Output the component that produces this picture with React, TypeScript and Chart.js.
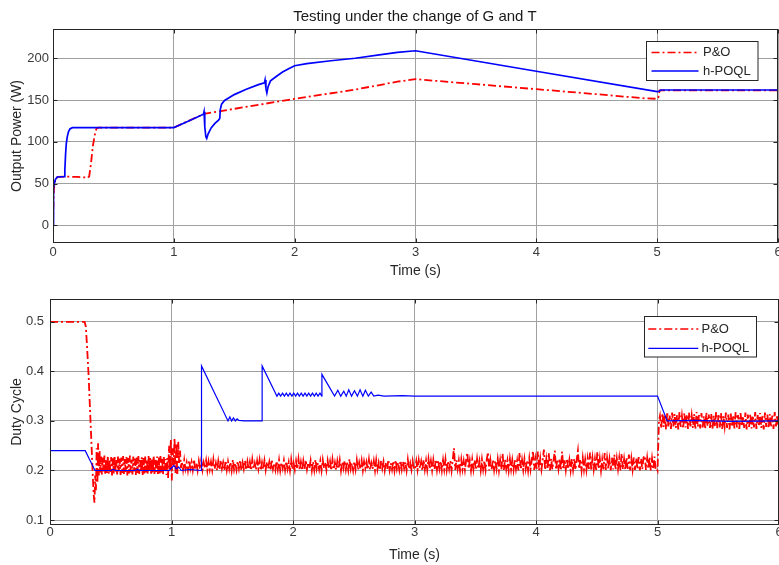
import React, { useEffect, useRef } from "react";
import { Chart, registerables } from "chart.js";

Chart.register(...registerables);

// ---------- text ----------
const chartTitle = "Testing under the change of G and T";
const xAxisTitle = "Time (s)";
const powerAxisTitle = "Output Power (W)";
const dutyAxisTitle = "Duty Cycle";
const seriesNames = ["P&O", "h-POQL"];

// ---------- ticks ----------
const timeTicks = [0, 1, 2, 3, 4, 5, 6];
const powerTicks = [0, 50, 100, 150, 200];
const dutyTicks = [0.1, 0.2, 0.3, 0.4, 0.5];
const timeRange = [0, 6];
const powerRange = [-21, 235];
const dutyRange = [0.09, 0.546];

// ---------- top panel: output power (W) ----------
const poPower: [number, number][] = [
  [0, 0], [0.004, 28], [0.008, 44], [0.015, 52], [0.025, 56], [0.04, 58], [0.1, 58.5], [0.2, 58],
  [0.26, 57.5], [0.29, 57], [0.3, 59], [0.315, 75], [0.33, 95], [0.345, 108], [0.36, 116], [0.375, 117],
  [1.0, 117], [1.25, 133.5], [1.5, 139.5], [1.75, 145.5], [2.0, 151.5], [2.5, 162.5], [2.85, 172],
  [3.0, 175], [3.5, 169], [4.0, 163], [4.5, 157], [4.9, 152], [5.0, 151.5], [5.01, 153], [5.02, 161.5],
  [6.0, 161.5],
];

const hPower: [number, number][] = [
  [0, 0], [0.002, 15], [0.004, 35], [0.007, 45], [0.012, 51], [0.02, 55], [0.035, 58], [0.094, 58.5],
  [0.098, 66], [0.104, 85], [0.11, 98], [0.118, 106], [0.128, 112], [0.14, 115.5], [0.16, 117],
  [1.0, 117], [1.1, 123.5], [1.2, 130], [1.245, 133], [1.25, 136], [1.256, 118], [1.265, 106],
  [1.272, 104], [1.285, 110], [1.31, 117], [1.34, 122], [1.37, 126], [1.38, 128], [1.385, 139],
  [1.395, 145], [1.42, 149.5], [1.46, 153], [1.5, 156.5], [1.6, 163], [1.7, 168.5], [1.75, 170.5],
  [1.755, 174], [1.762, 164], [1.77, 158.5], [1.78, 166], [1.8, 173], [1.85, 178.5], [1.9, 183.5],
  [1.95, 187.5], [2.0, 191], [2.1, 193.5], [2.3, 197], [2.5, 200], [2.7, 204], [2.85, 207], [3.0, 209],
  [4.0, 184.5], [5.0, 160], [5.015, 160.5], [5.03, 162], [6.0, 162],
];

// ---------- bottom panel: duty cycle ----------
const poDutyHead: [number, number][] = [
  [0, 0.5], [0.285, 0.5], [0.295, 0.49], [0.305, 0.45], [0.318, 0.39], [0.33, 0.32], [0.342, 0.25],
  [0.352, 0.19], [0.36, 0.15], [0.366, 0.135], [0.372, 0.19], [0.378, 0.16], [0.384, 0.245],
  [0.39, 0.175], [0.396, 0.255], [0.402, 0.19], [0.408, 0.24],
];

const poDutyNoiseASpan = [0.413, 0.965];
const poDutyNoiseA = [
  0.196, 0.228, 0.192, 0.226, 0.198, 0.23, 0.191, 0.224, 0.195, 0.229, 0.193, 0.222, 0.197, 0.227, 0.19, 0.225,
  0.194, 0.23, 0.196, 0.221, 0.192, 0.228, 0.198, 0.224, 0.191, 0.226, 0.195, 0.229, 0.193, 0.223, 0.197, 0.227,
  0.19, 0.225, 0.194, 0.23, 0.196, 0.222, 0.192, 0.228, 0.198, 0.224, 0.191, 0.226, 0.195, 0.229, 0.193, 0.221,
  0.197, 0.227, 0.19, 0.225, 0.194, 0.228, 0.196, 0.223, 0.192, 0.229, 0.198, 0.226, 0.191, 0.224, 0.195, 0.23,
  0.193, 0.222, 0.197, 0.228, 0.19, 0.226, 0.194, 0.229, 0.196, 0.224, 0.192, 0.227, 0.198, 0.223, 0.191, 0.225,
];

const poDutyBurstSpan = [0.972, 1.078];
const poDutyBurst = [0.185, 0.25, 0.2, 0.262, 0.18, 0.245, 0.21, 0.265, 0.195, 0.255, 0.19, 0.258, 0.215, 0.24, 0.205];

const poDutyNoiseBSpan = [1.085, 2.995];
const poDutyNoiseB = [
  0.218, 0.201, 0.221, 0.203, 0.216, 0.2, 0.22, 0.204, 0.217, 0.201, 0.222, 0.202, 0.215, 0.2, 0.219, 0.203,
  0.221, 0.201, 0.216, 0.204, 0.22, 0.2, 0.218, 0.202, 0.217, 0.201, 0.222, 0.203, 0.215, 0.2, 0.219, 0.202,
  0.221, 0.204, 0.216, 0.2, 0.22, 0.201, 0.218, 0.203, 0.217, 0.2, 0.222, 0.202, 0.215, 0.201, 0.219, 0.204,
  0.221, 0.2, 0.216, 0.203, 0.22, 0.201, 0.218, 0.202, 0.217, 0.2, 0.222, 0.204, 0.215, 0.201, 0.219, 0.203,
  0.221, 0.2, 0.216, 0.202, 0.22, 0.201, 0.218, 0.204, 0.217, 0.2, 0.222, 0.203, 0.215, 0.201, 0.219, 0.202,
  0.221, 0.2, 0.216, 0.204, 0.22, 0.201, 0.218, 0.203, 0.217, 0.2, 0.222, 0.202, 0.215, 0.201, 0.219, 0.203,
  0.223, 0.201, 0.217, 0.2, 0.219, 0.203, 0.221, 0.202, 0.216, 0.204, 0.22, 0.2, 0.218, 0.201, 0.222, 0.203,
  0.215, 0.202, 0.219, 0.2, 0.221, 0.204, 0.217, 0.201, 0.22, 0.203, 0.218, 0.2, 0.222, 0.202, 0.216, 0.201,
  0.219, 0.203, 0.221, 0.2, 0.217, 0.204, 0.22, 0.202, 0.218, 0.201, 0.223, 0.203, 0.215, 0.2, 0.219, 0.202,
  0.221, 0.201, 0.216, 0.203, 0.22, 0.2, 0.218, 0.204, 0.217, 0.202, 0.222, 0.201, 0.215, 0.203, 0.219, 0.2,
  0.221, 0.202, 0.216, 0.201, 0.22, 0.204, 0.218, 0.2, 0.217, 0.203, 0.222, 0.201, 0.215, 0.202, 0.219, 0.2,
  0.221, 0.203, 0.216, 0.201, 0.22, 0.202, 0.218, 0.204, 0.217, 0.2, 0.222, 0.203, 0.215, 0.201, 0.219, 0.202,
];

const poDutyNoiseCSpan = [3.005, 4.995];
const poDutyNoiseC = [
  0.203, 0.219, 0.201, 0.221, 0.204, 0.218, 0.2, 0.222, 0.202, 0.22, 0.201, 0.223, 0.203, 0.219, 0.2, 0.221, 0.202, 0.222, 0.201, 0.22,
  0.203, 0.219, 0.2, 0.221, 0.202, 0.223, 0.201, 0.219, 0.203, 0.22, 0.2, 0.222, 0.245, 0.201, 0.221, 0.203, 0.22, 0.2, 0.222, 0.202,
  0.219, 0.201, 0.221, 0.236, 0.203, 0.22, 0.2, 0.222, 0.202, 0.221, 0.201, 0.223, 0.203, 0.219, 0.2, 0.222, 0.202, 0.22, 0.201, 0.223,
  0.237, 0.2, 0.221, 0.202, 0.222, 0.201, 0.22, 0.203, 0.223, 0.2, 0.221, 0.202, 0.234, 0.201, 0.222, 0.203, 0.22, 0.2, 0.223, 0.202,
  0.221, 0.201, 0.222, 0.203, 0.22, 0.2, 0.236, 0.202, 0.221, 0.201, 0.223, 0.203, 0.22, 0.2, 0.224, 0.202, 0.221, 0.24, 0.201, 0.223,
  0.203, 0.238, 0.2, 0.224, 0.202, 0.221, 0.242, 0.201, 0.223, 0.203, 0.236, 0.2, 0.224, 0.202, 0.222, 0.24, 0.201, 0.223, 0.203, 0.224,
  0.2, 0.238, 0.202, 0.222, 0.201, 0.224, 0.203, 0.221, 0.2, 0.223, 0.202, 0.224, 0.201, 0.222, 0.24, 0.203, 0.223, 0.2, 0.225, 0.202,
  0.222, 0.201, 0.224, 0.203, 0.236, 0.2, 0.225, 0.202, 0.223, 0.201, 0.238, 0.203, 0.224, 0.2, 0.222, 0.202, 0.235, 0.201, 0.225, 0.203,
  0.223, 0.2, 0.226, 0.202, 0.232, 0.201, 0.224, 0.203, 0.225, 0.2, 0.234, 0.202, 0.223, 0.201, 0.226, 0.203, 0.232, 0.2, 0.224, 0.202,
  0.226, 0.201, 0.225, 0.203, 0.227, 0.2, 0.224, 0.202, 0.226, 0.23, 0.201, 0.225, 0.203, 0.227, 0.2, 0.224, 0.202, 0.228, 0.201, 0.203,
];

const poDutyStep: [number, number][] = [[5.0, 0.2], [5.006, 0.25], [5.012, 0.3]];

const poDutyNoiseDSpan = [5.02, 5.995];
const poDutyNoiseD = [
  0.31, 0.285, 0.316, 0.288, 0.313, 0.283, 0.318, 0.287, 0.311, 0.284, 0.317, 0.289, 0.314, 0.286,
  0.312, 0.283, 0.318, 0.288, 0.31, 0.285, 0.316, 0.287, 0.313, 0.284, 0.317, 0.289, 0.311, 0.286,
  0.314, 0.283, 0.318, 0.288, 0.312, 0.285, 0.316, 0.287, 0.31, 0.284, 0.317, 0.289, 0.313, 0.286,
  0.314, 0.283, 0.311, 0.288, 0.318, 0.285, 0.312, 0.287, 0.316, 0.284, 0.31, 0.289, 0.317, 0.286,
  0.313, 0.283, 0.315, 0.288, 0.311, 0.285, 0.318, 0.287, 0.312, 0.284, 0.316, 0.289, 0.31, 0.286,
  0.317, 0.283, 0.313, 0.288, 0.314, 0.285, 0.311, 0.287, 0.318, 0.284, 0.312, 0.289, 0.316, 0.286,
  0.31, 0.283, 0.317, 0.288, 0.313, 0.285, 0.314, 0.287, 0.311, 0.284, 0.318, 0.289, 0.312, 0.286,
];

const hDuty: [number, number][] = [
  [0, 0.24], [0.29, 0.24], [0.37, 0.2], [0.5, 0.2], [0.52, 0.202], [0.54, 0.2], [0.7, 0.2],
  [0.72, 0.202], [0.74, 0.2], [0.98, 0.2], [1.0, 0.205], [1.02, 0.21], [1.04, 0.203], [1.06, 0.207],
  [1.08, 0.2], [1.15, 0.202], [1.246, 0.2], [1.247, 0.411], [1.465, 0.3], [1.48, 0.308],
  [1.495, 0.3], [1.51, 0.306], [1.525, 0.3], [1.54, 0.304], [1.555, 0.301], [1.6, 0.3], [1.745, 0.3],
  [1.746, 0.411], [1.868, 0.35], [1.883, 0.356], [1.898, 0.35], [1.914, 0.356], [1.929, 0.35],
  [1.945, 0.356], [1.96, 0.35], [1.975, 0.356], [1.991, 0.35], [2.006, 0.356], [2.022, 0.35],
  [2.037, 0.356], [2.052, 0.35], [2.068, 0.356], [2.083, 0.35], [2.099, 0.356], [2.114, 0.35],
  [2.129, 0.356], [2.145, 0.35], [2.16, 0.356], [2.176, 0.35], [2.191, 0.356], [2.206, 0.35],
  [2.222, 0.356], [2.237, 0.35], [2.238, 0.394], [2.342, 0.35], [2.369, 0.362], [2.393, 0.35],
  [2.418, 0.36], [2.438, 0.35], [2.459, 0.363], [2.482, 0.35], [2.506, 0.361], [2.53, 0.35],
  [2.552, 0.363], [2.575, 0.35], [2.596, 0.362], [2.62, 0.35], [2.643, 0.358], [2.665, 0.35],
  [2.7, 0.352], [2.75, 0.35], [2.9, 0.351], [3.0, 0.35], [3.5, 0.35], [4.0, 0.35], [5.0, 0.35],
  [5.08, 0.3], [5.3, 0.301], [5.6, 0.299], [6.0, 0.3],
];

// ---------- styling ----------
const FONT = "'Liberation Sans', Arial, Helvetica, sans-serif";
const RED = "#ff0000";
const BLUE = "#0000ff";
const GRID = "#a0a0a0";
const FRAME = "#262626";
const TICK = "#3a3a3a";
const LABEL = "#262626";

type Pt = { x: number; y: number };
const pairs = (arr: [number, number][]): Pt[] => arr.map(([x, y]) => ({ x, y }));
const sampled = (span: number[], values: number[]): Pt[] =>
  values.map((v, i) => ({ x: span[0] + ((span[1] - span[0]) * i) / (values.length - 1), y: v }));

const framePlugin = {
  id: "frame",
  afterDatasetsDraw(chart: any) {
    const { ctx, chartArea: a } = chart;
    const l = Math.round(a.left) + 0.5;
    const r = Math.round(a.right) - 0.5;
    const t = Math.round(a.top) + 0.5;
    const b = Math.round(a.bottom) - 0.5;
    ctx.save();
    ctx.strokeStyle = FRAME;
    ctx.lineWidth = 1;
    ctx.setLineDash([]);
    ctx.strokeRect(l, t, r - l, b - t);
    const xs = chart.scales.x;
    const ys = chart.scales.y;
    ctx.beginPath();
    xs.ticks.forEach((tk: any) => {
      const px = Math.round(xs.getPixelForValue(tk.value)) + 0.5;
      ctx.moveTo(px, b);
      ctx.lineTo(px, b - 4);
      ctx.moveTo(px, t);
      ctx.lineTo(px, t + 4);
    });
    ys.ticks.forEach((tk: any) => {
      const py = Math.round(ys.getPixelForValue(tk.value)) + 0.5;
      ctx.moveTo(l, py);
      ctx.lineTo(l + 4, py);
      ctx.moveTo(r, py);
      ctx.lineTo(r - 4, py);
    });
    ctx.stroke();
    ctx.restore();
  },
};

const titlePlugin = {
  id: "panelTitle",
  afterDraw(chart: any, _args: any, opts: any) {
    if (!opts || !opts.text) return;
    const { ctx } = chart;
    ctx.save();
    ctx.font = `${opts.size}px ${FONT}`;
    ctx.fillStyle = opts.color;
    ctx.textAlign = "center";
    ctx.textBaseline = "middle";
    ctx.fillText(opts.text, opts.x, opts.y);
    ctx.restore();
  },
};

const legendPlugin = {
  id: "boxLegend",
  afterDraw(chart: any, _args: any, opts: any) {
    if (!opts || !opts.box) return;
    const { ctx } = chart;
    const [bl, bt, br, bb] = opts.box;
    ctx.save();
    ctx.fillStyle = "#ffffff";
    ctx.fillRect(bl, bt, br - bl, bb - bt);
    ctx.strokeStyle = FRAME;
    ctx.lineWidth = 1;
    ctx.setLineDash([]);
    ctx.strokeRect(bl, bt, br - bl, bb - bt);
    chart.data.datasets.forEach((ds: any, i: number) => {
      const y = opts.rows[i];
      ctx.beginPath();
      ctx.setLineDash(ds.borderDash || []);
      ctx.strokeStyle = ds.borderColor;
      ctx.lineWidth = Math.min(ds.borderWidth, 1.6);
      ctx.moveTo(opts.line[0], y);
      ctx.lineTo(opts.line[1], y);
      ctx.stroke();
      ctx.setLineDash([]);
      ctx.font = `${opts.size}px ${FONT}`;
      ctx.fillStyle = LABEL;
      ctx.textAlign = "left";
      ctx.textBaseline = "middle";
      ctx.fillText(ds.label, opts.textX, y);
    });
    ctx.restore();
  },
};

function makeConfig(p: {
  po: Pt[];
  h: Pt[];
  yTicks: number[];
  yRange: number[];
  yTitle: string;
  padTop: number;
  padRight: number;
  yWidth: number;
  xHeight: number;
  yTickPad: number;
  xTickPad: number;
  xTitlePadBottom: number;
  lineWidths: number[];
  legend: any;
  title: any;
}): any {
  const tickFont = { family: FONT, size: 13 };
  const titleFont = { family: FONT, size: 14 };
  return {
    type: "line",
    data: {
      datasets: [
        {
          label: seriesNames[0],
          data: p.po,
          borderColor: RED,
          borderWidth: p.lineWidths[0],
          borderDash: [8, 3, 2, 3],
          pointRadius: 0,
          tension: 0,
          fill: false,
          order: 1,
        },
        {
          label: seriesNames[1],
          data: p.h,
          borderColor: BLUE,
          borderWidth: p.lineWidths[1],
          pointRadius: 0,
          tension: 0,
          fill: false,
          order: 0,
        },
      ],
    },
    options: {
      animation: false,
      responsive: false,
      events: [],
      layout: { padding: { top: p.padTop, left: 0, right: p.padRight, bottom: 0 } },
      plugins: {
        legend: { display: false },
        tooltip: { enabled: false },
        title: { display: false },
        boxLegend: p.legend,
        panelTitle: p.title,
      },
      scales: {
        x: {
          type: "linear",
          min: timeRange[0],
          max: timeRange[1],
          afterBuildTicks: (s: any) => {
            s.ticks = timeTicks.map((v) => ({ value: v }));
          },
          afterFit: (s: any) => {
            s.height = p.xHeight;
            s.paddingLeft = 0;
            s.paddingRight = 0;
          },
          grid: { color: GRID, lineWidth: 1, drawTicks: false },
          border: { display: false },
          ticks: {
            padding: p.xTickPad,
            color: TICK,
            font: tickFont,
            maxRotation: 0,
            autoSkip: false,
            callback: (v: number) => String(v),
          },
          title: {
            display: true,
            text: xAxisTitle,
            color: LABEL,
            font: titleFont,
            padding: { top: 0, bottom: p.xTitlePadBottom },
          },
        },
        y: {
          type: "linear",
          min: p.yRange[0],
          max: p.yRange[1],
          afterBuildTicks: (s: any) => {
            s.ticks = p.yTicks.map((v) => ({ value: v }));
          },
          afterFit: (s: any) => {
            s.width = p.yWidth;
            s.paddingTop = 0;
            s.paddingBottom = 0;
          },
          grid: { color: GRID, lineWidth: 1, drawTicks: false },
          border: { display: false },
          ticks: {
            padding: p.yTickPad,
            color: TICK,
            font: tickFont,
            autoSkip: false,
            callback: (v: number) => String(v),
          },
          title: {
            display: true,
            text: p.yTitle,
            color: LABEL,
            font: titleFont,
            padding: { top: 8.6, bottom: 0 },
          },
        },
      },
    },
    plugins: [framePlugin, titlePlugin, legendPlugin],
  };
}

export default function App() {
  const topRef = useRef<HTMLCanvasElement>(null);
  const botRef = useRef<HTMLCanvasElement>(null);

  useEffect(() => {
    document.body.style.margin = "0";
    document.body.style.background = "#ffffff";

    const topCfg = makeConfig({
      po: pairs(poPower),
      h: pairs(hPower),
      yTicks: powerTicks,
      yRange: powerRange,
      yTitle: powerAxisTitle,
      padTop: 29,
      padRight: 1,
      yWidth: 53,
      xHeight: 39,
      yTickPad: 4,
      xTickPad: 2,
      xTitlePadBottom: 2,
      lineWidths: [1.8, 1.7],
      legend: { box: [646.5, 41.5, 758, 80.5], rows: [52.5, 71], line: [651.5, 698.5], textX: 703, size: 13 },
      title: { text: chartTitle, x: 415, y: 17, size: 15, color: "#1a1a1a" },
    });

    const dutyPO = [
      ...pairs(poDutyHead),
      ...sampled(poDutyNoiseASpan, poDutyNoiseA),
      ...sampled(poDutyBurstSpan, poDutyBurst),
      ...sampled(poDutyNoiseBSpan, poDutyNoiseB),
      ...sampled(poDutyNoiseCSpan, poDutyNoiseC),
      ...pairs(poDutyStep),
      ...sampled(poDutyNoiseDSpan, poDutyNoiseD),
    ];

    const botCfg = makeConfig({
      po: dutyPO,
      h: pairs(hDuty),
      yTicks: dutyTicks,
      yRange: dutyRange,
      yTitle: dutyAxisTitle,
      padTop: 17,
      padRight: 0,
      yWidth: 50,
      xHeight: 40,
      yTickPad: 6,
      xTickPad: 0,
      xTitlePadBottom: 1.6,
      lineWidths: [1.8, 1.2],
      legend: { box: [644.5, 34.5, 756.5, 75], rows: [47, 66.3], line: [648.3, 698.3], textX: 701.5, size: 13 },
      title: null,
    });

    const c1 = new Chart(topRef.current as HTMLCanvasElement, topCfg);
    const c2 = new Chart(botRef.current as HTMLCanvasElement, botCfg);
    return () => {
      c1.destroy();
      c2.destroy();
    };
  }, []);

  return (
    <div style={{ position: "relative", width: 779, height: 565, background: "#ffffff", overflow: "hidden" }}>
      <canvas
        ref={topRef}
        width={779}
        height={282}
        style={{ position: "absolute", left: 0, top: 0, display: "block" }}
      />
      <canvas
        ref={botRef}
        width={779}
        height={283}
        style={{ position: "absolute", left: 0, top: 282, display: "block" }}
      />
    </div>
  );
}
